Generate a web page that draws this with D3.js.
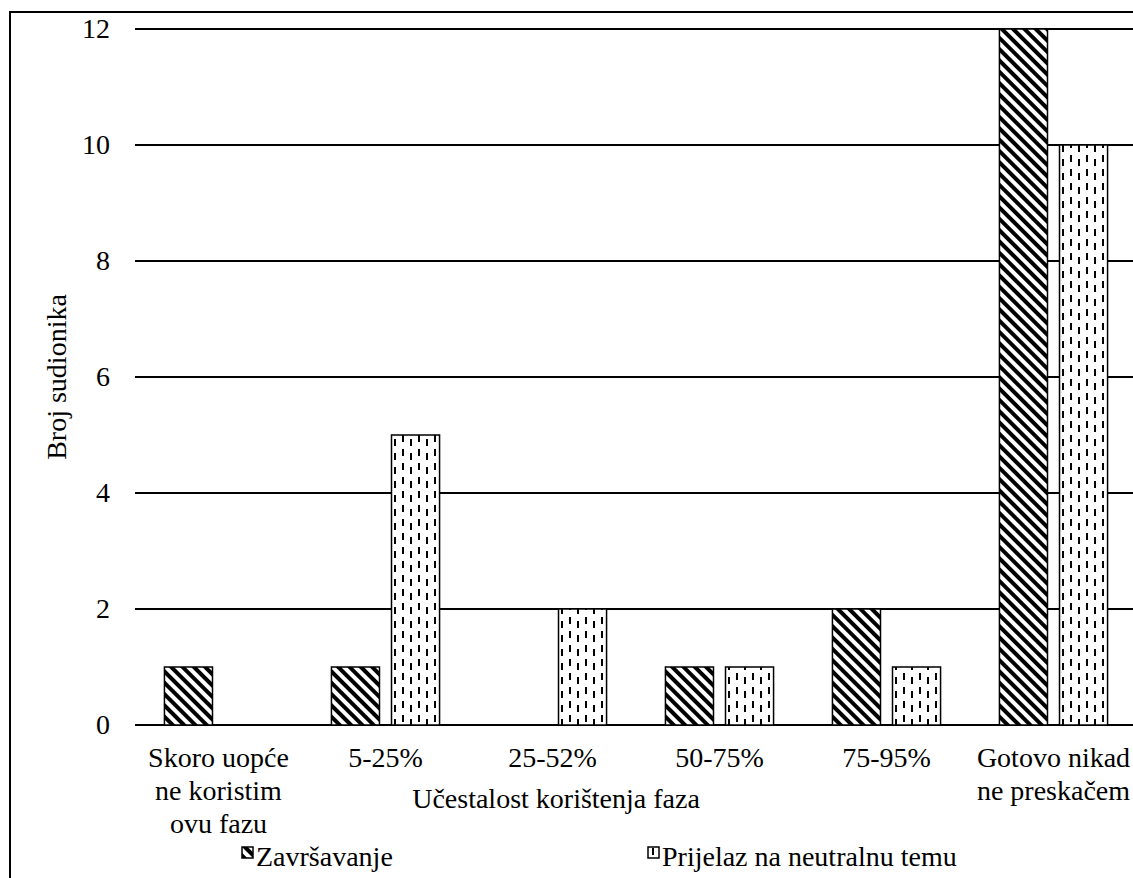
<!DOCTYPE html>
<html>
<head>
<meta charset="utf-8">
<script src="https://cdn.jsdelivr.net/npm/d3@7"></script>
<style>
  body { margin: 0; background: #fff; }
  svg text { font-family: "Liberation Serif", "Times New Roman", serif !important; fill: #000; }
</style>
</head>
<body>
<svg width="1133" height="878"></svg>
<script>
// podaci
const categories = ["Skoro uopće ne koristim ovu fazu", "5-25%", "25-52%", "50-75%", "75-95%", "Gotovo nikad ne preskačem"];
const categoryLines = [["Skoro uopće", "ne koristim", "ovu fazu"], ["5-25%"], ["25-52%"], ["50-75%"], ["75-95%"], ["Gotovo nikad", "ne preskačem"]];
const seriesNames = ["Završavanje", "Prijelaz na neutralnu temu"];
const zavrsavanje = [1, 1, 0, 1, 2, 12];
const prijelaz = [0, 5, 2, 1, 1, 10];
const yTicks = [0, 2, 4, 6, 8, 10, 12];

const svg = d3.select("svg");
const fontSize = 28;

// uzorci za stupce
const defs = svg.append("defs");
const diag = defs.append("pattern")
  .attr("id", "diag")
  .attr("patternUnits", "userSpaceOnUse")
  .attr("width", 8).attr("height", 8)
  .attr("patternTransform", "rotate(-45)");
diag.append("rect").attr("width", 8).attr("height", 8).attr("fill", "#fff");
diag.append("rect").attr("x", 0).attr("width", 4).attr("height", 8).attr("fill", "#000");

const dash = defs.append("pattern")
  .attr("id", "dash")
  .attr("patternUnits", "userSpaceOnUse")
  .attr("width", 16).attr("height", 14);
dash.append("rect").attr("width", 16).attr("height", 14).attr("fill", "#fff");
dash.append("rect").attr("x", 4).attr("y", 1).attr("width", 2).attr("height", 7).attr("fill", "#000");
dash.append("rect").attr("x", 12).attr("y", 5).attr("width", 2).attr("height", 7).attr("fill", "#000");

const fills = ["url(#diag)", "url(#dash)"];

// okvir
svg.append("rect")
  .attr("x", 10).attr("y", 12)
  .attr("width", 1140).attr("height", 880)
  .attr("fill", "none").attr("stroke", "#000").attr("stroke-width", 2);

const x0 = d3.scaleBand().domain(categories).range([135, 1137]);
const x1 = d3.scaleBand().domain(seriesNames).range([0, x0.bandwidth()])
  .paddingInner(0.2).paddingOuter(0.49);
const y = d3.scaleLinear().domain([0, 12]).range([725, 29]);

// mreža
svg.append("g")
  .selectAll("line")
  .data(yTicks)
  .join("line")
  .attr("x1", 135).attr("x2", 1133)
  .attr("y1", (d) => y(d)).attr("y2", (d) => y(d))
  .attr("stroke", "#000").attr("stroke-width", 2);

// y os
const yAxis = svg.append("g")
  .attr("transform", "translate(135,0)")
  .attr("font-family", null)
  .call(d3.axisLeft(y).tickValues(yTicks).tickSize(0).tickPadding(25));
yAxis.attr("font-family", "Liberation Serif").attr("font-size", fontSize);
yAxis.select(".domain").remove();
yAxis.selectAll("text").attr("fill", "#000");

// stupci
const rows = categories.map((c, i) => ({ cat: c, values: [zavrsavanje[i], prijelaz[i]] }));
const groups = svg.append("g")
  .selectAll("g")
  .data(rows)
  .join("g")
  .attr("transform", (d) => `translate(${x0(d.cat)},0)`);

groups.selectAll("rect")
  .data((d) => d.values.map((v, j) => ({ name: seriesNames[j], value: v, j: j })).filter((e) => e.value > 0))
  .join("rect")
  .attr("x", (d) => x1(d.name))
  .attr("width", x1.bandwidth())
  .attr("y", (d) => y(d.value))
  .attr("height", (d) => y(0) - y(d.value))
  .attr("fill", (d) => fills[d.j])
  .attr("stroke", "#000")
  .attr("stroke-width", 1.5);

// oznake kategorija
svg.append("g")
  .selectAll("text")
  .data(categories)
  .join("text")
  .attr("x", (d) => x0(d) + x0.bandwidth() / 2)
  .attr("y", 767)
  .attr("text-anchor", "middle")
  .style("font-size", fontSize + "px")
  .selectAll("tspan")
  .data((d, i) => categoryLines[i])
  .join("tspan")
  .attr("x", function () { return this.parentNode.getAttribute("x"); })
  .attr("dy", (d, i) => (i === 0 ? 0 : 33))
  .text((d) => d);

// naslovi osi
svg.append("text")
  .attr("x", 556).attr("y", 808)
  .attr("text-anchor", "middle")
  .style("font-size", fontSize + "px")
  .text("Učestalost korištenja faza");

svg.append("text")
  .attr("transform", "translate(66,377) rotate(-90)")
  .attr("text-anchor", "middle")
  .style("font-size", fontSize + "px")
  .text("Broj sudionika");

// legenda
const legendX = [242, 648];
const legend = svg.append("g")
  .selectAll("g")
  .data(seriesNames)
  .join("g")
  .attr("transform", (d, i) => `translate(${legendX[i]},847)`);
legend.append("rect")
  .attr("width", 11).attr("height", 11)
  .attr("fill", (d, i) => fills[i])
  .attr("stroke", "#000").attr("stroke-width", 1.5);
legend.append("text")
  .attr("x", 14).attr("y", 19)
  .style("font-size", fontSize + "px")
  .text((d) => d);
</script>
</body>
</html>
